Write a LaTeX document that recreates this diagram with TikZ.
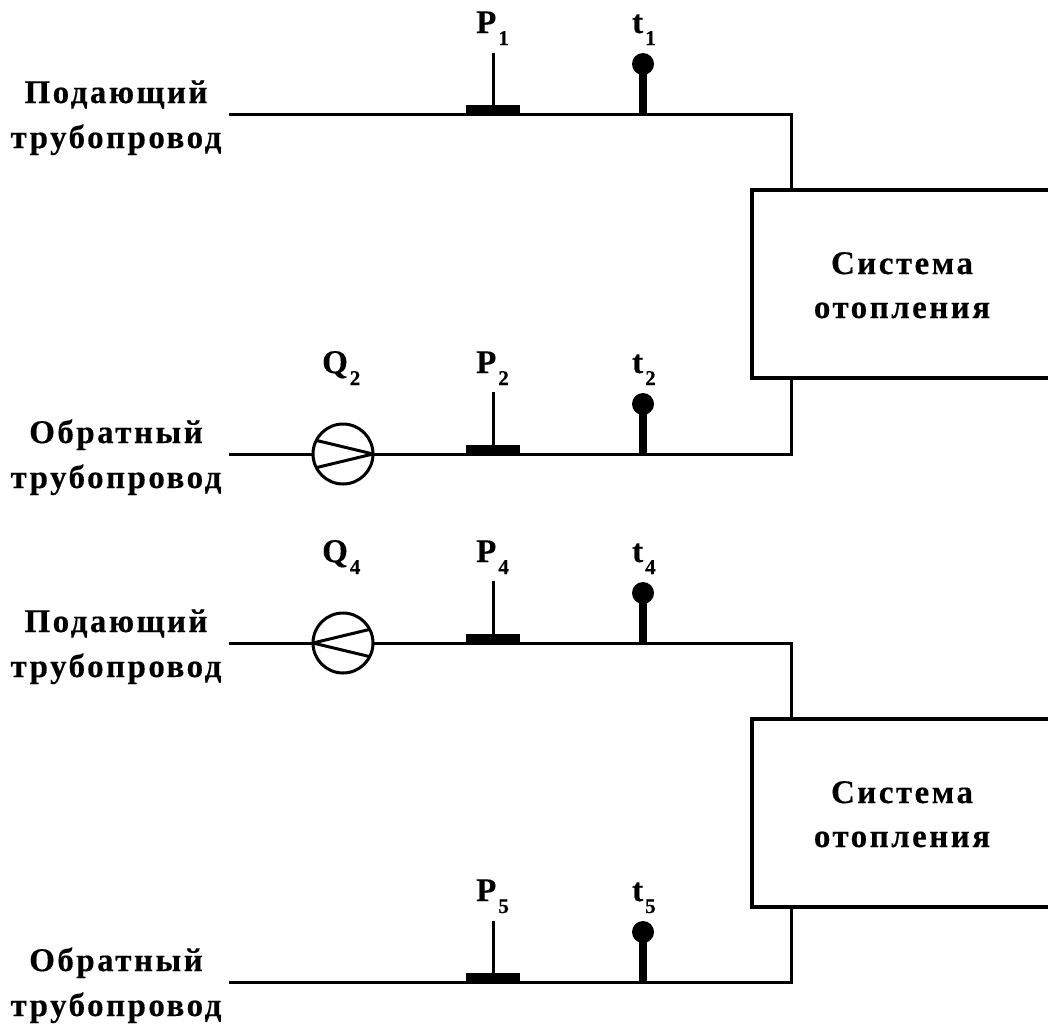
\documentclass[tikz,border=0pt]{standalone}
\usepackage{fontspec}
\setmainfont{Liberation Serif}[BoldFont={Liberation Serif Bold}]
\newfontfamily\lblfont{Liberation Serif Bold}[LetterSpace=7.5,FakeBold=0.3]
\newfontfamily\symfont{Liberation Serif Bold}[FakeBold=0.3]
\newcommand{\symlab}[2]{{\fontsize{33}{33}\symfont #1}\kern2pt\raisebox{-12pt}{\fontsize{21}{21}\symfont #2}}
\tikzset{
  pipe/.style={line width=3pt,line join=miter},
  frame/.style={line width=3.5pt,line join=miter},
  sysbox/.style={minimum width=296pt,minimum height=188pt,inner sep=0pt,outer sep=0pt,anchor=north west},
  lbl/.style={inner sep=0pt,anchor=base,font=\fontsize{33}{33}\lblfont},
  sym/.style={inner sep=0pt,anchor=base west},
  bar/.style={fill=black,minimum width=54pt,minimum height=10pt,inner sep=0pt,outer sep=0pt},
  bulb/.style={circle,fill=black,minimum size=22pt,inner sep=0pt,outer sep=0pt},
  pump/.style={circle,draw,line width=3pt,minimum size=60pt,inner sep=0pt,outer sep=0pt,fill=none},
  thinstem/.style={line width=3pt},
  thickstem/.style={line width=8pt},
  pumpline/.style={line width=3pt,line join=miter}
}
\begin{document}
\begin{tikzpicture}[x=1pt,y=-1pt]
\useasboundingbox (0,0) rectangle (1048,1023);
% --- systems
\node[sysbox] (S1) at (752,190) {};
\node[sysbox] (S2) at (752,719) {};
\draw[frame] (S1.north east) -- (S1.north west) -- (S1.south west) -- (S1.south east);
\draw[frame] (S2.north east) -- (S2.north west) -- (S2.south west) -- (S2.south east);
\node[lbl] (S1a) at (902,274) {Система};
\node[lbl] (S1b) at (902,318) {отопления};
\node[lbl] (S2a) at (902,803) {Система};
\node[lbl] (S2b) at (902,847) {отопления};
% --- pipe ends
\coordinate (A1) at (229,114);
\coordinate (B1) at (791,114);
\coordinate (A2) at (229,454);
\coordinate (B2) at (791,454);
\coordinate (A3) at (229,643);
\coordinate (B3) at (791,643);
\coordinate (A4) at (229,982);
\coordinate (B4) at (791,982);
\coordinate (C1) at (791,190);
\coordinate (C2) at (791,378);
\coordinate (C3) at (791,719);
\coordinate (C4) at (791,907);
% --- pumps
\node[pump] (Q2) at (343,454) {};
\node[pump] (Q4) at (343,643) {};
\draw[pumpline] (Q2.153) -- (Q2.east) -- (Q2.207);
\draw[pumpline] (Q4.27) -- (Q4.west) -- (Q4.-27);
% --- pipes
\draw[pipe] (A1) -- (B1) -- (C1);
\draw[pipe] (A2) -- (Q2.west);
\draw[pipe] (Q2.east) -- (B2) -- (C2);
\draw[pipe] (A3) -- (Q4.west);
\draw[pipe] (Q4.east) -- (B3) -- (C3);
\draw[pipe] (A4) -- (B4) -- (C4);
% --- pressure gauges
\node[bar] (P1) at (493,110) {};
\node[bar] (P2) at (493,450) {};
\node[bar] (P4) at (493,639) {};
\node[bar] (P5) at (493,978) {};
\coordinate (Pt1) at (493,53);
\coordinate (Pt2) at (493,392);
\coordinate (Pt4) at (493,581);
\coordinate (Pt5) at (493,921);
\draw[thinstem] (Pt1) -- (P1.north);
\draw[thinstem] (Pt2) -- (P2.north);
\draw[thinstem] (Pt4) -- (P4.north);
\draw[thinstem] (Pt5) -- (P5.north);
% --- thermometers
\node[bulb] (T1) at (643,64) {};
\node[bulb] (T2) at (643,404) {};
\node[bulb] (T4) at (643,593) {};
\node[bulb] (T5) at (643,932) {};
\coordinate (Tb1) at (643,114);
\coordinate (Tb2) at (643,454);
\coordinate (Tb4) at (643,643);
\coordinate (Tb5) at (643,982);
\draw[thickstem] (T1.center) -- (Tb1);
\draw[thickstem] (T2.center) -- (Tb2);
\draw[thickstem] (T4.center) -- (Tb4);
\draw[thickstem] (T5.center) -- (Tb5);
% --- symbols
\node[sym] (lP1) at (476,33) {\symlab{P}{1}};
\node[sym] (lt1) at (632,33) {\symlab{t}{1}};
\node[sym] (lQ2) at (322,373) {\symlab{Q}{2}};
\node[sym] (lP2) at (476,373) {\symlab{P}{2}};
\node[sym] (lt2) at (632,373) {\symlab{t}{2}};
\node[sym] (lQ4) at (322,562) {\symlab{Q}{4}};
\node[sym] (lP4) at (476,562) {\symlab{P}{4}};
\node[sym] (lt4) at (632,562) {\symlab{t}{4}};
\node[sym] (lP5) at (476,901) {\symlab{P}{5}};
\node[sym] (lt5) at (632,901) {\symlab{t}{5}};
% --- left labels
\node[lbl] (L1a) at (116,103) {Подающий};
\node[lbl] (L1b) at (116,148) {трубопровод};
\node[lbl] (L2a) at (116,443) {Обратный};
\node[lbl] (L2b) at (116,488) {трубопровод};
\node[lbl] (L3a) at (116,632) {Подающий};
\node[lbl] (L3b) at (116,677) {трубопровод};
\node[lbl] (L4a) at (116,971) {Обратный};
\node[lbl] (L4b) at (116,1016) {трубопровод};
\end{tikzpicture}
\end{document}
